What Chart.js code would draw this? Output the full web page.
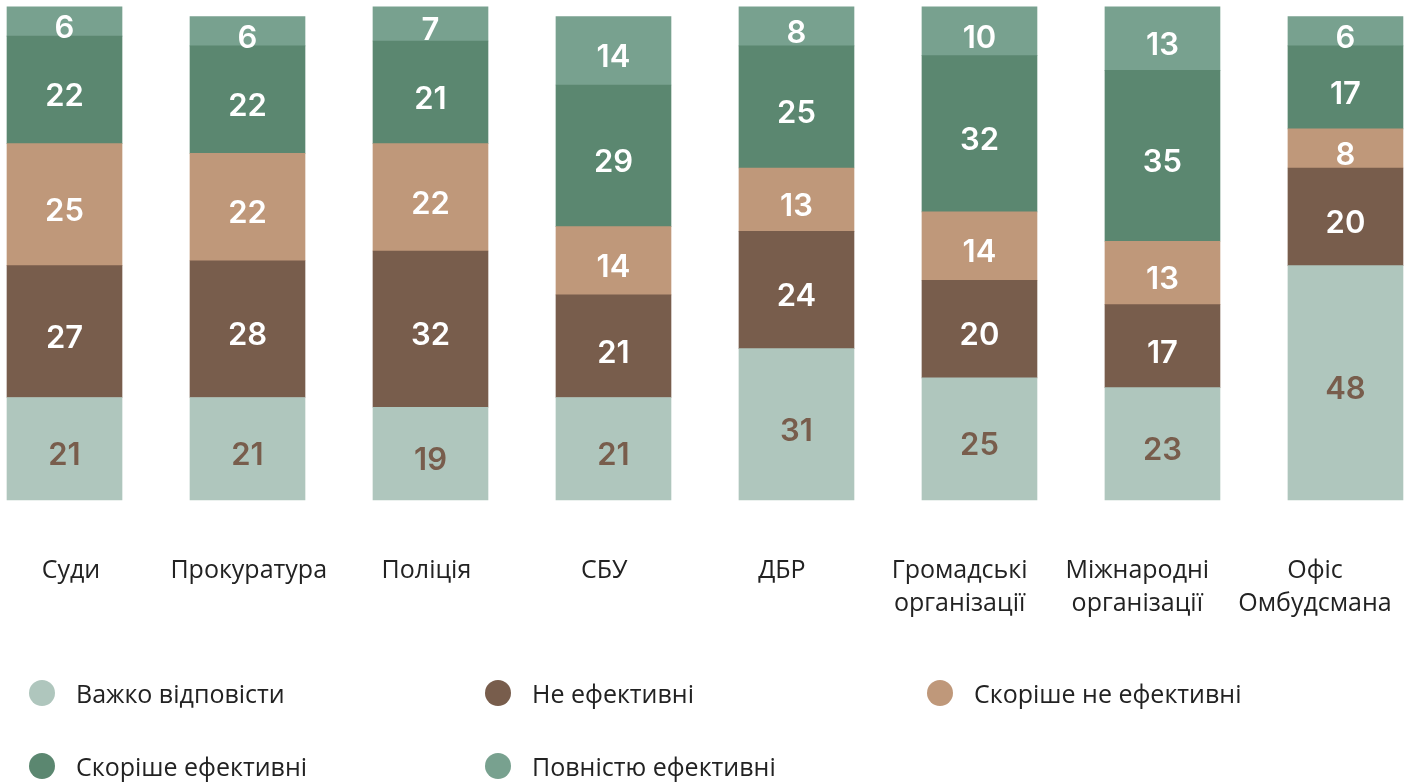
<!DOCTYPE html>
<html>
<head>
<meta charset="utf-8">
<script src="https://cdn.jsdelivr.net/npm/chart.js@4"></script>
<style>
  body { margin: 0; background: #fff; }
  #wrap { position: relative; width: 1415px; height: 782px; }
  .leg { position: absolute; display: flex; align-items: center; font-family: "Open Sans", sans-serif; font-size: 25px; color: #222; white-space: nowrap; }
  .leg span.dot { width: 26px; height: 26px; border-radius: 50%; margin-right: 21px; display: inline-block; flex: none; }
</style>
</head>
<body>
<div id="wrap">
  <canvas id="grafico"></canvas>
  <div id="legenda"></div>
</div>
<script>
// DADOS
const categories = [
  'Суди', 'Прокуратура', 'Поліція', 'СБУ', 'ДБР',
  ['Громадські', 'організації'], ['Міжнародні', 'організації'], ['Офіс', 'Омбудсмана']
];
const seriesNames = ['Важко відповісти', 'Не ефективні', 'Скоріше не ефективні', 'Скоріше ефективні', 'Повністю ефективні'];
const vazhko = [21, 21, 19, 21, 31, 25, 23, 48];
const neEf = [27, 28, 32, 21, 24, 20, 17, 20];
const skorisheNe = [25, 22, 22, 14, 13, 14, 13, 8];
const skorisheEf = [22, 22, 21, 29, 25, 32, 35, 17];
const povnistyu = [6, 6, 7, 14, 8, 10, 13, 6];

const cores = ['#afc6bd', '#785d4c', '#bf987a', '#5b8770', '#78a18f'];
const series = [vazhko, neEf, skorisheNe, skorisheEf, povnistyu];

// rotulos dentro das barras
const rotulos = {
  id: 'rotulos',
  afterDatasetsDraw(chart) {
    const c = chart.ctx;
    c.save();
    c.font = '600 31px Inter, sans-serif';
    c.textAlign = 'center';
    c.textBaseline = 'middle';
    chart.data.datasets.forEach((ds, i) => {
      const meta = chart.getDatasetMeta(i);
      c.fillStyle = i === 0 ? '#785d4c' : '#ffffff';
      meta.data.forEach((bar, j) => {
        const v = ds.data[j].y;
        c.fillText(v, bar.x, (bar.y + bar.base) / 2 + 7);
      });
    });
    c.restore();
  }
};

const ctx = document.getElementById('grafico');

new Chart(ctx, {
  type: 'bar',
  data: {
    datasets: series.map((s, i) => ({
      label: seriesNames[i],
      data: s.map((v, j) => ({ x: j, y: v })),
      backgroundColor: cores[i],
      borderWidth: 0,
      barThickness: 115,
      clip: false
    }))
  },
  options: {
    responsive: true,
    maintainAspectRatio: false,
    animation: false,
    layout: { padding: { left: 71, right: 100, top: 0, bottom: 162 } },
    plugins: { legend: { display: false }, tooltip: { enabled: false } },
    scales: {
      x: {
        type: 'linear',
        stacked: true,
        offset: false,
        min: 0.0355,
        max: 6.8335,
        display: false
      },
      x2: {
        type: 'category',
        labels: categories,
        position: 'bottom',
        offset: false,
        grid: { display: false, drawTicks: false },
        border: { display: false },
        ticks: {
          autoSkip: false,
          maxRotation: 0,
          padding: 54,
          color: '#222',
          font: { family: 'Open Sans', size: 25, lineHeight: 1.32 }
        },
        afterFit(scale) {
          scale.height = 120;
          scale.paddingLeft = 0;
          scale.paddingRight = 0;
        }
      },
      y: {
        stacked: true,
        min: 0,
        max: 102.4,
        display: false
      }
    }
  },
  plugins: [rotulos]
});

// LEGENDA
const posLeg = [[29, 680], [485, 680], [927, 680], [29, 753], [485, 753]];
const leg = document.getElementById('legenda');
seriesNames.forEach((n, i) => {
  const d = document.createElement('div');
  d.className = 'leg';
  d.style.left = posLeg[i][0] + 'px';
  d.style.top = posLeg[i][1] + 'px';
  d.style.height = '26px';
  d.innerHTML = '<span class="dot" style="background:' + cores[i] + '"></span>' + n;
  leg.appendChild(d);
});
</script>
</body>
</html>
